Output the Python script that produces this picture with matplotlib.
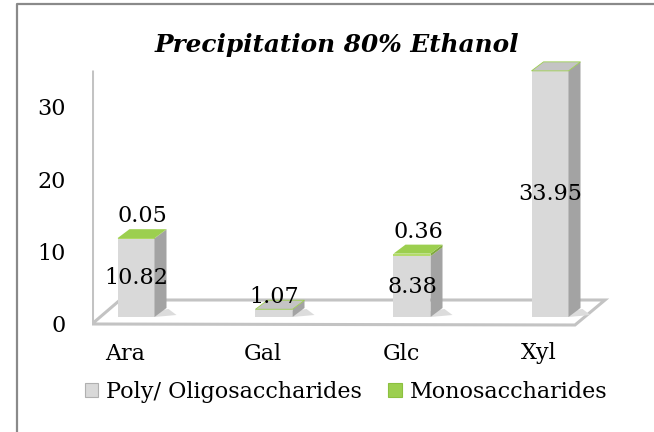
import matplotlib
matplotlib.use("Agg")
import matplotlib.pyplot as plt
from matplotlib.patches import Polygon, Patch
from matplotlib.lines import Line2D
import matplotlib.transforms as mtransforms

# ---- data ----
categories = ["Ara", "Gal", "Glc", "Xyl"]
poly_values = [10.82, 1.07, 8.38, 33.95]
mono_values = [0.05, 0.0, 0.36, 0.0]
series_names = ["Poly/ Oligosaccharides", "Monosaccharides"]
yticks = [0, 10, 20, 30]
title = "Precipitation 80% Ethanol"

# ---- styling / layout ----
W, H, DPI = 654, 432, 100
FONT = "DejaVu Serif"
FS = 16
front_gray, side_gray, top_gray = "#d9d9d9", "#a3a3a3", "#c4c4c4"
front_green, side_green, top_green = "#b4db6a", "#7fa83c", "#9ccf4f"
edge_gray = "#c3c3c3"

fig = plt.figure(figsize=(W / DPI, H / DPI), dpi=DPI)
fig.patch.set_facecolor("white")

# axes box in pixels
L, R, T, B = 92, 610, 60, 330
ax = fig.add_axes([L / W, 1 - B / H, (R - L) / W, (B - T) / H])
x0_px, xstep_px = 136, 138      # first category centre, spacing
y0_px, ystep_px = 317, 7.25     # base line, px per unit
ax.set_xlim((L - x0_px) / xstep_px, (R - x0_px) / xstep_px)
ax.set_ylim((y0_px - B) / ystep_px, (y0_px - T) / ystep_px)
ax.patch.set_visible(False)
for s in ax.spines.values():
    s.set_visible(False)

def px2dx(p):
    return p / xstep_px

def px2dy(p):
    return p / ystep_px

bar_w = px2dx(37)
ddx, ddy = px2dx(12), px2dy(9)

# floor and wall
floor = Polygon([((92 - x0_px) / xstep_px, (y0_px - 324) / ystep_px),
                 ((575 - x0_px) / xstep_px, (y0_px - 325) / ystep_px),
                 ((605 - x0_px) / xstep_px, (y0_px - 300) / ystep_px),
                 ((120 - x0_px) / xstep_px, (y0_px - 300) / ystep_px)],
                closed=True, facecolor="white", edgecolor=edge_gray, lw=2.2, zorder=1)
ax.add_patch(floor)
ax.plot([(92 - x0_px) / xstep_px] * 2,
        [(y0_px - 324) / ystep_px, (y0_px - 70) / ystep_px],
        color=edge_gray, lw=2.2, zorder=1, solid_capstyle="butt")

xs = list(range(len(categories)))

# shadows
for x, p, m in zip(xs, poly_values, mono_values):
    sh = Polygon([(x + bar_w / 2, 0), (x + bar_w / 2 + px2dx(22), px2dy(2)),
                  (x + bar_w / 2 + px2dx(14), px2dy(8)), (x + bar_w / 2, px2dy(6))],
                 closed=True, facecolor="#dcdcdc", edgecolor="none", zorder=2)
    ax.add_patch(sh)

# front faces
ax.bar(xs, poly_values, width=bar_w, color=front_gray, zorder=3, linewidth=0)
ax.bar(xs, mono_values, bottom=poly_values, width=bar_w, color=front_green,
       zorder=3, linewidth=0)

def side(x, b, t, color):
    ax.add_patch(Polygon([(x + bar_w / 2, b), (x + bar_w / 2 + ddx, b + ddy),
                          (x + bar_w / 2 + ddx, t + ddy), (x + bar_w / 2, t)],
                         closed=True, facecolor=color, edgecolor="none", zorder=3))

for x, p, m in zip(xs, poly_values, mono_values):
    side(x, 0, p, side_gray)
    if m > 0:
        side(x, p, p + m, side_green)
    top = p + m
    tc = top_green if m > 0 else top_gray
    ax.add_patch(Polygon([(x - bar_w / 2, top), (x - bar_w / 2 + ddx, top + ddy),
                          (x + bar_w / 2 + ddx, top + ddy), (x + bar_w / 2, top)],
                         closed=True, facecolor=tc,
                         edgecolor=top_green if m == 0 else "none",
                         lw=0.6, zorder=3))

# data labels
for x, p, m in zip(xs, poly_values, mono_values):
    if p < 3:
        ax.text(x, p + px2dy(12), f"{p:.2f}", ha="center", va="center",
                fontsize=FS, family=FONT, zorder=5)
    else:
        ax.text(x, p / 2, f"{p:.2f}", ha="center", va="center",
                fontsize=FS, family=FONT, zorder=5)
    if m > 0:
        ax.text(x + ddx / 2, p + m + ddy + px2dy(2), f"{m:.2f}", ha="center",
                va="bottom", fontsize=FS, family=FONT, zorder=5)

# ticks
ax.set_yticks(yticks)
ax.set_yticklabels([str(v) for v in yticks], fontsize=FS, family=FONT)
ax.set_xticks(xs)
ax.set_xticklabels(categories, fontsize=FS, family=FONT)
ax.tick_params(axis="both", length=0)
ax.tick_params(axis="y", pad=19)
ax.tick_params(axis="x", pad=9)
off_y = mtransforms.ScaledTranslation(0, -7 / DPI, fig.dpi_scale_trans)
for lab in ax.get_yticklabels():
    lab.set_transform(lab.get_transform() + off_y)
off_x = mtransforms.ScaledTranslation(-11 / DPI, 0, fig.dpi_scale_trans)
for lab in ax.get_xticklabels():
    lab.set_transform(lab.get_transform() + off_x)

# title
fig.text(337 / W, 1 - 45 / H, title, ha="center", va="center", fontsize=17.8,
         fontweight="bold", fontstyle="italic", family=FONT)

# legend
handles = [Patch(facecolor=front_gray, edgecolor="#b0b0b0", lw=0.8),
           Patch(facecolor=top_green, edgecolor="#8cc040", lw=0.8)]
fig.legend(handles, series_names, loc="center", bbox_to_anchor=(346 / W, 1 - 392 / H),
           ncol=2, frameon=False, prop={"family": FONT, "size": FS},
           handlelength=0.6, handleheight=0.6, handletextpad=0.35,
           columnspacing=1.2, borderpad=0)

# outer border
fig.add_artist(Line2D([17 / W, 17 / W, 1], [0, 1 - 4 / H, 1 - 4 / H],
                      transform=fig.transFigure, color="#8a8a8a", lw=1.6))

fig.savefig("out.png", dpi=DPI)
